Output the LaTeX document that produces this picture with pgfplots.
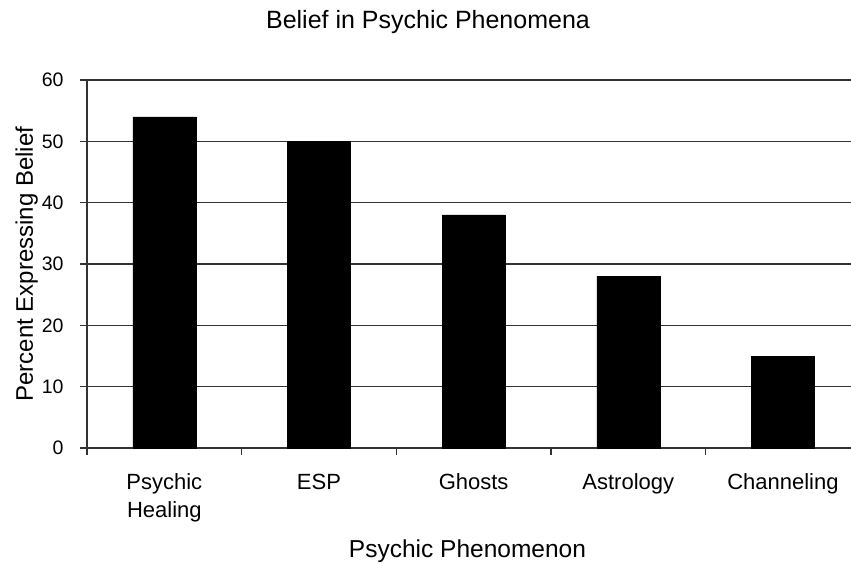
\documentclass[border=0pt]{standalone}
\usepackage{pgfplots}
\pgfplotsset{compat=1.18}
\usepackage{fontspec}
\setmainfont{Liberation Sans}
\begin{document}
\begin{tikzpicture}[x=1pt,y=1pt]
\begin{axis}[
  at={(0,0)}, anchor=south west,
  scale only axis, width=764pt, height=368pt,
  xmin=-0.5, xmax=4.44, ymin=0, ymax=60,
  axis x line*=bottom, axis y line*=left,
  axis line style={draw=black!80, line width=1.3pt},
  ytick={0,10,...,60},
  ymajorgrids, grid style={draw=black!80, line width=1.3pt},
  xtick={0,1,2,3,4},
  xticklabels={{\begin{tabular}[t]{@{}c@{}}Psychic\\Healing\end{tabular}},ESP,Ghosts,Astrology,Channeling},
  xticklabel style={anchor=base, font=\fontsize{22}{28}\selectfont, yshift=-34pt},
  yticklabel style={anchor=east, font=\fontsize{19.5}{22}\selectfont, xshift=-13pt},
  /pgf/number format/assume math mode=true,
  major x tick style={draw=none},
  minor xtick={-0.5,0.5,1.5,2.5,3.5},
  tick align=outside,
  major tick length=7pt, minor tick length=7pt,
  tick style={draw=black!80, line width=1.3pt},
  ylabel={Percent Expressing Belief},
  ylabel style={font=\fontsize{24}{28}\selectfont, at={(axis description cs:-0.0707,0.5)}, anchor=base},
  xlabel={Psychic Phenomenon},
  xlabel style={font=\fontsize{24.5}{28}\selectfont, at={(axis description cs:0.498,-0.2962)}, anchor=base},
  title={Belief in Psychic Phenomena},
  title style={font=\fontsize{25}{30}\selectfont, at={(axis description cs:0.4463,1.1223)}, anchor=base},
  clip=false,
]
\addplot[ybar, bar width=0.408, fill=black, draw=black] coordinates {(0,54) (1,50) (2,38) (3,28) (4,15)};
\end{axis}
\pgfresetboundingbox
\path (-87pt,-115pt) rectangle (764pt,448pt);
\end{tikzpicture}
\end{document}
